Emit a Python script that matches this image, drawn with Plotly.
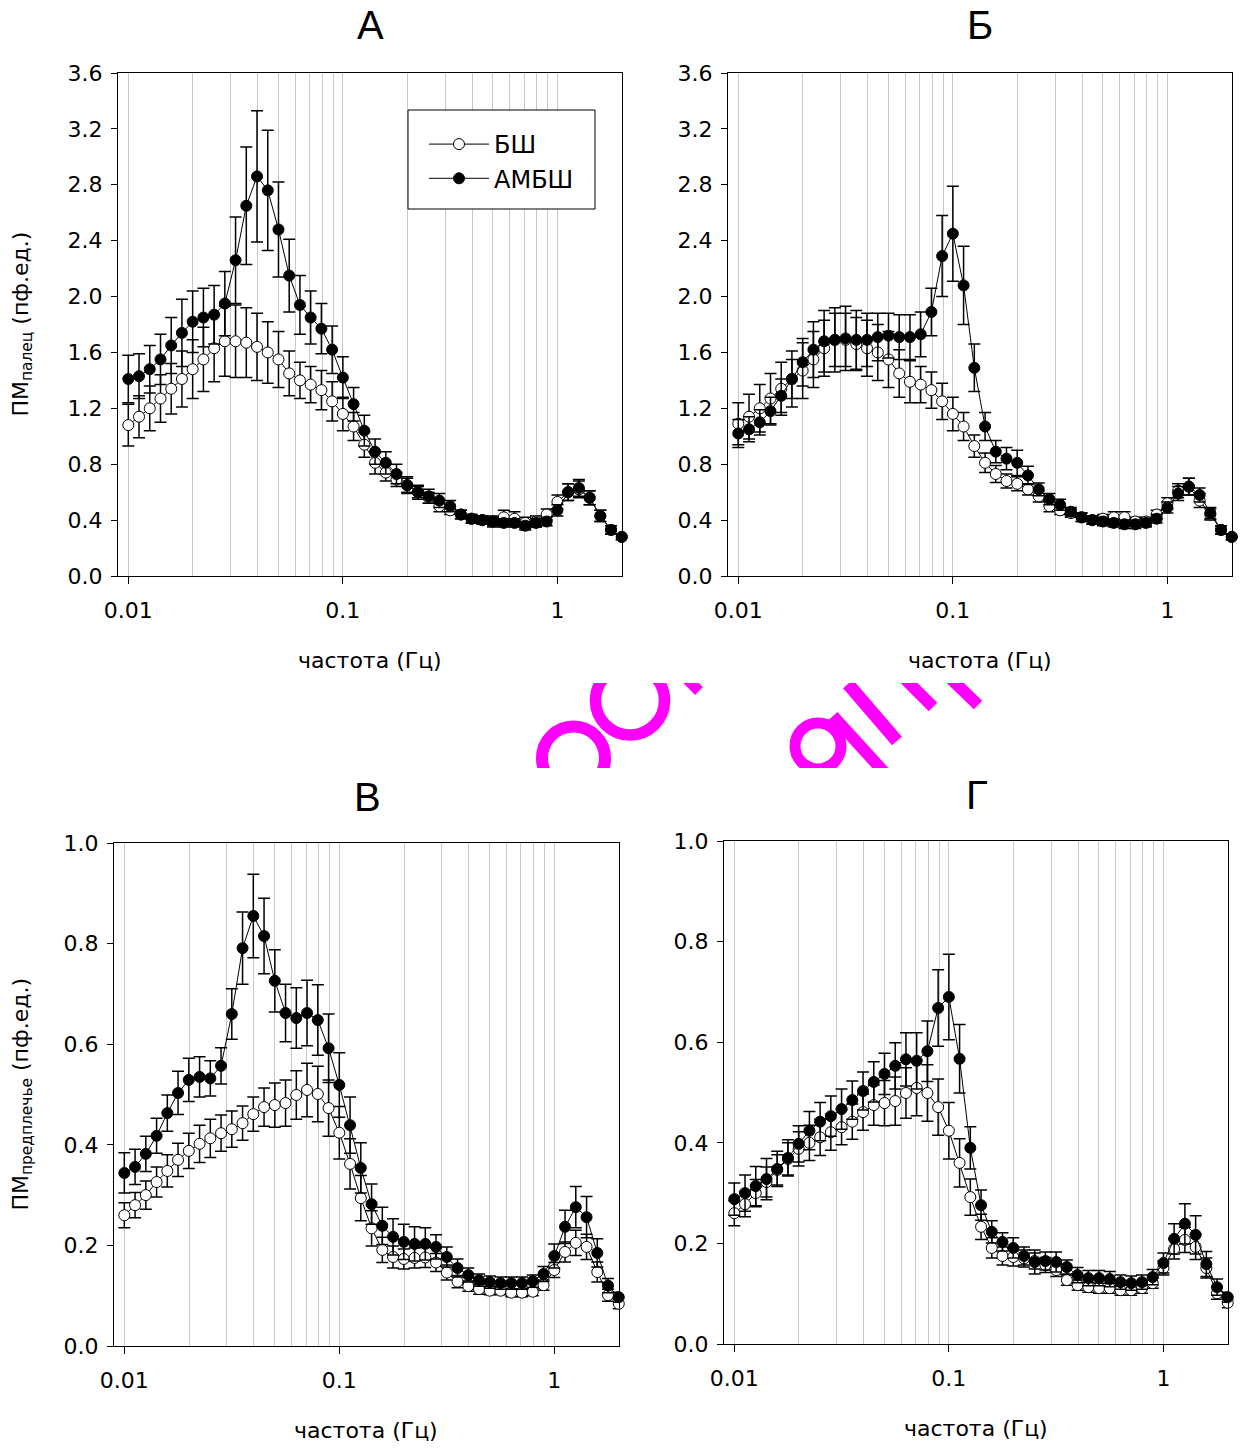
import plotly.graph_objects as go

# ---------------- data ----------------
freq = [0.0100, 0.01122, 0.01259, 0.01413, 0.01585, 0.01778, 0.01995, 0.02239, 0.02512, 0.02818,
        0.03162, 0.03548, 0.03981, 0.04467, 0.05012, 0.05623, 0.0631, 0.07079, 0.07943, 0.08913,
        0.1000, 0.1122, 0.1259, 0.1413, 0.1585, 0.1778, 0.1995, 0.2239, 0.2512, 0.2818,
        0.3162, 0.3548, 0.3981, 0.4467, 0.5012, 0.5623, 0.631, 0.7079, 0.7943, 0.8913,
        1.000, 1.122, 1.259, 1.413, 1.585, 1.778, 1.995]

series_names = ["БШ", "АМБШ"]

# Panel А (палец, БШ vs АМБШ)
A_bsh = [1.08, 1.14, 1.20, 1.27, 1.34, 1.41, 1.48, 1.55, 1.63, 1.68,
         1.68, 1.67, 1.64, 1.60, 1.55, 1.45, 1.40, 1.37, 1.33, 1.25,
         1.16, 1.07, 0.94, 0.81, 0.74, 0.69, 0.65, 0.60, 0.56, 0.50,
         0.47, 0.44, 0.41, 0.40, 0.39, 0.42, 0.41, 0.38, 0.39, 0.44,
         0.53, 0.60, 0.62, 0.56, 0.43, 0.33, 0.28]
A_bsh_err = [0.15, 0.15, 0.16, 0.17, 0.18, 0.20, 0.21, 0.23, 0.24, 0.25,
             0.26, 0.25, 0.24, 0.22, 0.20, 0.16, 0.13, 0.13, 0.14, 0.14,
             0.12, 0.10, 0.09, 0.08, 0.06, 0.05, 0.05, 0.04, 0.04, 0.04,
             0.03, 0.03, 0.03, 0.03, 0.04, 0.05, 0.05, 0.04, 0.04, 0.04,
             0.05, 0.06, 0.06, 0.05, 0.04, 0.03, 0.02]
A_amb = [1.41, 1.43, 1.48, 1.55, 1.65, 1.74, 1.82, 1.85, 1.87, 1.95,
         2.26, 2.65, 2.86, 2.76, 2.48, 2.15, 1.94, 1.85, 1.77, 1.62,
         1.42, 1.23, 1.04, 0.89, 0.81, 0.73, 0.65, 0.60, 0.57, 0.54,
         0.50, 0.44, 0.41, 0.40, 0.39, 0.38, 0.38, 0.36, 0.38, 0.39,
         0.47, 0.60, 0.63, 0.56, 0.43, 0.33, 0.28]
A_amb_err = [0.17, 0.16, 0.17, 0.18, 0.20, 0.24, 0.22, 0.21, 0.21, 0.23,
             0.31, 0.42, 0.47, 0.43, 0.34, 0.26, 0.21, 0.19, 0.18, 0.17,
             0.15, 0.12, 0.11, 0.09, 0.08, 0.07, 0.06, 0.05, 0.05, 0.05,
             0.04, 0.03, 0.03, 0.03, 0.03, 0.03, 0.03, 0.03, 0.03, 0.03,
             0.04, 0.06, 0.06, 0.05, 0.04, 0.03, 0.02]

# Panel Б
B_bsh = [1.09, 1.14, 1.20, 1.27, 1.34, 1.41, 1.47, 1.55, 1.63, 1.69,
         1.69, 1.66, 1.63, 1.60, 1.55, 1.45, 1.39, 1.37, 1.33, 1.25,
         1.16, 1.07, 0.93, 0.81, 0.73, 0.68, 0.66, 0.62, 0.57, 0.50,
         0.47, 0.45, 0.42, 0.40, 0.41, 0.42, 0.42, 0.39, 0.39, 0.44,
         0.52, 0.61, 0.64, 0.54, 0.44, 0.33, 0.28]
B_bsh_err = [0.15, 0.16, 0.17, 0.18, 0.19, 0.20, 0.20, 0.20, 0.20, 0.19,
             0.19, 0.19, 0.20, 0.20, 0.20, 0.17, 0.15, 0.13, 0.13, 0.13,
             0.12, 0.10, 0.08, 0.07, 0.06, 0.05, 0.05, 0.04, 0.04, 0.04,
             0.03, 0.03, 0.03, 0.03, 0.03, 0.04, 0.04, 0.03, 0.03, 0.03,
             0.04, 0.05, 0.06, 0.05, 0.04, 0.03, 0.02]
B_amb = [1.02, 1.05, 1.10, 1.18, 1.29, 1.41, 1.53, 1.62, 1.68, 1.69,
         1.70, 1.69, 1.69, 1.71, 1.72, 1.71, 1.71, 1.73, 1.89, 2.29,
         2.45, 2.08, 1.49, 1.07, 0.89, 0.84, 0.81, 0.72, 0.62, 0.55,
         0.51, 0.46, 0.42, 0.40, 0.39, 0.38, 0.37, 0.37, 0.38, 0.41,
         0.49, 0.59, 0.64, 0.58, 0.45, 0.33, 0.28]
B_amb_err = [0.10, 0.09, 0.09, 0.10, 0.12, 0.14, 0.17, 0.20, 0.22, 0.23,
             0.23, 0.21, 0.19, 0.17, 0.16, 0.16, 0.16, 0.16, 0.17, 0.29,
             0.34, 0.28, 0.17, 0.10, 0.08, 0.08, 0.09, 0.065, 0.045, 0.04,
             0.04, 0.03, 0.03, 0.03, 0.03, 0.03, 0.03, 0.03, 0.03, 0.03,
             0.04, 0.05, 0.06, 0.05, 0.04, 0.03, 0.02]

# Panel В (предплечье)
C_bsh = [0.260, 0.280, 0.300, 0.326, 0.348, 0.370, 0.388, 0.402, 0.413, 0.423,
         0.431, 0.443, 0.461, 0.475, 0.479, 0.483, 0.499, 0.509, 0.501, 0.473,
         0.424, 0.362, 0.294, 0.234, 0.191, 0.177, 0.173, 0.175, 0.176, 0.166,
         0.146, 0.128, 0.119, 0.113, 0.110, 0.110, 0.106, 0.106, 0.108, 0.121,
         0.151, 0.187, 0.205, 0.197, 0.147, 0.101, 0.084]
C_bsh_err = [0.025, 0.025, 0.028, 0.030, 0.032, 0.033, 0.035, 0.037, 0.038, 0.036,
             0.036, 0.034, 0.034, 0.038, 0.044, 0.046, 0.048, 0.053, 0.055, 0.056,
             0.052, 0.050, 0.045, 0.035, 0.025, 0.022, 0.020, 0.020, 0.020, 0.018,
             0.015, 0.012, 0.010, 0.010, 0.008, 0.008, 0.008, 0.008, 0.008, 0.010,
             0.015, 0.020, 0.025, 0.025, 0.020, 0.012, 0.010]
C_amb = [0.344, 0.356, 0.382, 0.418, 0.463, 0.503, 0.529, 0.535, 0.532, 0.557,
         0.660, 0.791, 0.855, 0.815, 0.726, 0.662, 0.652, 0.662, 0.648, 0.592,
         0.519, 0.439, 0.354, 0.282, 0.239, 0.217, 0.207, 0.203, 0.203, 0.197,
         0.177, 0.155, 0.141, 0.131, 0.127, 0.125, 0.125, 0.125, 0.129, 0.143,
         0.179, 0.237, 0.276, 0.256, 0.185, 0.120, 0.097]
C_amb_err = [0.040, 0.035, 0.035, 0.035, 0.036, 0.043, 0.043, 0.040, 0.035, 0.036,
             0.050, 0.072, 0.083, 0.075, 0.062, 0.057, 0.060, 0.065, 0.070, 0.068,
             0.064, 0.056, 0.050, 0.040, 0.037, 0.036, 0.035, 0.034, 0.032, 0.024,
             0.020, 0.018, 0.014, 0.012, 0.012, 0.012, 0.012, 0.012, 0.012, 0.015,
             0.024, 0.033, 0.041, 0.041, 0.028, 0.014, 0.010]

# Panel Г
D_bsh = [0.260, 0.278, 0.300, 0.322, 0.346, 0.368, 0.388, 0.400, 0.411, 0.421,
         0.431, 0.442, 0.461, 0.475, 0.479, 0.483, 0.499, 0.509, 0.499, 0.471,
         0.424, 0.360, 0.292, 0.233, 0.191, 0.175, 0.173, 0.170, 0.165, 0.157,
         0.147, 0.127, 0.117, 0.113, 0.111, 0.111, 0.107, 0.107, 0.111, 0.121,
         0.151, 0.189, 0.207, 0.193, 0.151, 0.101, 0.082]
D_bsh_err = [0.025, 0.025, 0.027, 0.030, 0.030, 0.032, 0.034, 0.035, 0.036, 0.036,
             0.035, 0.035, 0.036, 0.040, 0.045, 0.048, 0.050, 0.055, 0.056, 0.056,
             0.056, 0.048, 0.036, 0.025, 0.020, 0.018, 0.018, 0.017, 0.016, 0.015,
             0.013, 0.010, 0.010, 0.010, 0.010, 0.010, 0.010, 0.010, 0.010, 0.010,
             0.014, 0.020, 0.025, 0.025, 0.020, 0.012, 0.010]
D_amb = [0.288, 0.300, 0.314, 0.328, 0.348, 0.370, 0.398, 0.424, 0.442, 0.453,
         0.467, 0.485, 0.503, 0.521, 0.537, 0.553, 0.566, 0.563, 0.582, 0.668,
         0.690, 0.567, 0.390, 0.276, 0.223, 0.203, 0.191, 0.175, 0.163, 0.165,
         0.163, 0.153, 0.137, 0.131, 0.131, 0.129, 0.123, 0.121, 0.123, 0.133,
         0.161, 0.209, 0.239, 0.217, 0.159, 0.113, 0.093]
D_amb_err = [0.032, 0.036, 0.039, 0.041, 0.035, 0.036, 0.036, 0.038, 0.038, 0.040,
             0.040, 0.038, 0.038, 0.040, 0.041, 0.046, 0.053, 0.056, 0.060, 0.076,
             0.085, 0.068, 0.042, 0.030, 0.022, 0.018, 0.020, 0.018, 0.024, 0.018,
             0.020, 0.014, 0.015, 0.015, 0.015, 0.015, 0.014, 0.014, 0.014, 0.015,
             0.020, 0.030, 0.040, 0.038, 0.025, 0.016, 0.010]

panel_titles = ["А", "Б", "В", "Г"]
x_title = "частота (Гц)"
y_titles = ["ПМ<sub>палец</sub> (пф.ед.)", "ПМ<sub>предплечье</sub> (пф.ед.)"]
x_tickvals = [0.01, 0.1, 1]
x_ticktext = ["0.01", "0.1", "1"]
grid_vals = [0.01, 0.02, 0.03, 0.04, 0.05, 0.06, 0.07, 0.08, 0.09,
             0.1, 0.2, 0.3, 0.4, 0.5, 0.6, 0.7, 0.8, 0.9, 1, 2]

# ---------------- layout helpers ----------------
W, H = 1248, 1448
def fx(px):
    return px / W
def fy(py):
    return 1 - py / H

TICK_FONT = dict(family="DejaVu Sans", size=22, color="black")
LBL_FONT = dict(family="DejaVu Sans", size=22, color="black")
LEG_FONT = dict(family="DejaVu Sans", size=24, color="black")
TITLE_FONT = dict(family="Liberation Sans", size=40, color="black")
GRID = "#c8c8c8"

panels = [
    dict(x=(118, 622), y=(73, 576), ymax=3.6, dtick=0.4,
         bsh=A_bsh, bsh_err=A_bsh_err, amb=A_amb, amb_err=A_amb_err,
         title_xy=(370, 25), xt_xy=(370, 660), yt=0),
    dict(x=(728, 1232), y=(73, 576), ymax=3.6, dtick=0.4,
         bsh=B_bsh, bsh_err=B_bsh_err, amb=B_amb, amb_err=B_amb_err,
         title_xy=(980, 25), xt_xy=(980, 660), yt=None),
    dict(x=(114, 619), y=(843, 1346), ymax=1.0, dtick=0.2,
         bsh=C_bsh, bsh_err=C_bsh_err, amb=C_amb, amb_err=C_amb_err,
         title_xy=(367, 797), xt_xy=(366, 1430), yt=1),
    dict(x=(724, 1228), y=(841, 1344), ymax=1.0, dtick=0.2,
         bsh=D_bsh, bsh_err=D_bsh_err, amb=D_amb, amb_err=D_amb_err,
         title_xy=(977, 795), xt_xy=(976, 1428), yt=None),
]

fig = go.Figure()
layout = dict(width=W, height=H,
              margin=dict(l=0, r=0, t=0, b=0, pad=0, autoexpand=False),
              paper_bgcolor="white", plot_bgcolor="white", showlegend=True)
annotations = []

for k, p in enumerate(panels, start=1):
    xa, ya = f"x{k}", f"y{k}"
    for name, vals, errs, fill in [(series_names[0], p["bsh"], p["bsh_err"], "white"),
                                   (series_names[1], p["amb"], p["amb_err"], "black")]:
        fig.add_trace(go.Scatter(
            x=freq, y=vals, name=name, xaxis=xa, yaxis=ya,
            mode="lines+markers", cliponaxis=False,
            showlegend=(k == 1),
            line=dict(color="black", width=1),
            marker=dict(symbol="circle", size=11, color=fill,
                        line=dict(color="black", width=1)),
            error_y=dict(type="data", array=errs, visible=True,
                         color="black", thickness=1.5, width=6),
        ))
    axis_common = dict(showline=True, linecolor="black", linewidth=1, mirror=True,
                       zeroline=False, fixedrange=True, tickfont=TICK_FONT,
                       ticks="outside", tickcolor="black", tickwidth=1,
                       automargin=False)
    layout[f"xaxis{k}"] = dict(
        domain=[fx(p["x"][0]), fx(p["x"][1])], anchor=ya, type="log",
        range=[-2.048, 0.301], tickmode="array", tickvals=x_tickvals,
        ticktext=x_ticktext, ticklen=7, ticklabelstandoff=8,
        showgrid=True, gridcolor=GRID, gridwidth=1,
        minor=dict(tickmode="array", tickvals=grid_vals, ticks="",
                   showgrid=True, gridcolor=GRID, gridwidth=1),
        **axis_common)
    layout[f"yaxis{k}"] = dict(
        domain=[fy(p["y"][1]), fy(p["y"][0])], anchor=xa,
        range=[0, p["ymax"]], tick0=0, dtick=p["dtick"], tickformat=".1f",
        ticklen=6, ticklabelstandoff=4, showgrid=False, **axis_common)
    tx, ty = p["title_xy"]
    annotations.append(dict(text=panel_titles[k - 1], x=fx(tx), y=fy(ty),
                            xref="paper", yref="paper", showarrow=False,
                            xanchor="center", yanchor="middle", font=TITLE_FONT))
    ax_, ay_ = p["xt_xy"]
    annotations.append(dict(text=x_title, x=fx(ax_), y=fy(ay_),
                            xref="paper", yref="paper", showarrow=False,
                            xanchor="center", yanchor="middle", font=LBL_FONT))
    if p["yt"] is not None:
        cy = (p["y"][0] + p["y"][1]) / 2
        annotations.append(dict(text=y_titles[p["yt"]], x=fx(22), y=fy(cy),
                                xref="paper", yref="paper", showarrow=False,
                                textangle=-90, xanchor="center", yanchor="middle",
                                font=LBL_FONT))

# hidden band subplot that clips the magenta watermark fragments
layout["xaxis5"] = dict(domain=[fx(522), fx(1015)], anchor="y5", range=[522, 1015],
                        visible=False, fixedrange=True)
layout["yaxis5"] = dict(domain=[fy(768), fy(683)], anchor="x5", range=[768, 683],
                        visible=False, fixedrange=True)
fig.add_trace(go.Scatter(x=[None], y=[None], xaxis="x5", yaxis="y5",
                         showlegend=False, hoverinfo="skip"))
MAG = "#ff00ff"
wm = [
    dict(type="circle", x0=573.5 - 31.5, x1=573.5 + 31.5, y0=758 - 31.5, y1=758 + 31.5, w=12),
    dict(type="circle", x0=630 - 34.5, x1=630 + 34.5, y0=700.5 - 34.5, y1=700.5 + 34.5, w=11.5),
    dict(type="circle", x0=818 - 23, x1=818 + 23, y0=746 - 23, y1=746 + 23, w=11),
    dict(type="line", x0=684, y0=676, x1=699, y1=691, w=11),
    dict(type="line", x0=833, y0=716, x1=884, y1=772, w=12),
    dict(type="line", x0=848, y0=684, x1=897, y1=741, w=13),
    dict(type="line", x0=900, y0=674, x1=933, y1=707, w=12),
    dict(type="line", x0=946, y0=674, x1=978, y1=705, w=12),
]
shapes = []
for s in wm:
    shapes.append(dict(type=s["type"], xref="x5", yref="y5", x0=s["x0"], x1=s["x1"],
                       y0=s["y0"], y1=s["y1"], line=dict(color=MAG, width=s["w"]),
                       layer="above"))
# legend frame (white box with black border, drawn above the grid)
shapes.append(dict(type="rect", xref="paper", yref="paper",
                   x0=fx(408), x1=fx(595), y0=fy(209), y1=fy(110),
                   line=dict(color="black", width=1), fillcolor="white", layer="above"))

layout["annotations"] = annotations
layout["shapes"] = shapes
layout["legend"] = dict(x=fx(424), y=fy(122), xanchor="left", yanchor="top",
                        bgcolor="rgba(0,0,0,0)", borderwidth=0,
                        font=LEG_FONT, itemwidth=60, traceorder="normal")
fig.update_layout(**layout)
fig.write_html("out.html")
